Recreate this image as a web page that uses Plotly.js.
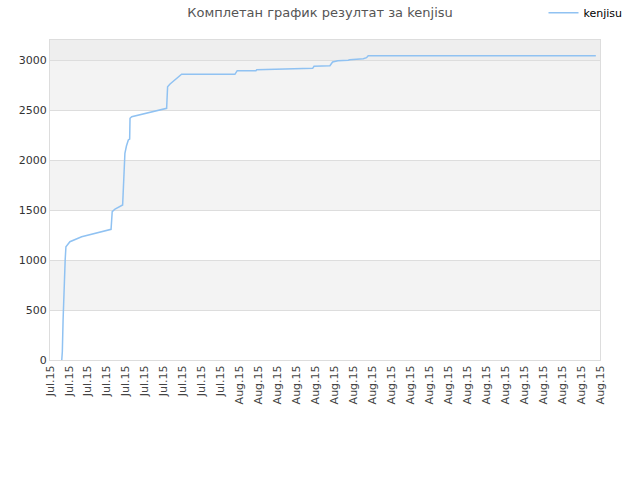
<!DOCTYPE html>
<html>
<head>
<meta charset="utf-8">
<script src="https://cdn.plot.ly/plotly-3.0.1.min.js"></script>
<style>
  html, body { margin: 0; padding: 0; background: #fff; }
  #plot { width: 640px; height: 480px; }
</style>
</head>
<body>
<div id="plot"></div>
<script>
// Tick labels along the x axis (one per tick position)
var tickLabels = [
  "Jul.15", "Jul.15", "Jul.15", "Jul.15", "Jul.15",
  "Jul.15", "Jul.15", "Jul.15", "Jul.15", "Jul.15",
  "Aug.15", "Aug.15", "Aug.15", "Aug.15", "Aug.15",
  "Aug.15", "Aug.15", "Aug.15", "Aug.15", "Aug.15",
  "Aug.15", "Aug.15", "Aug.15", "Aug.15", "Aug.15",
  "Aug.15", "Aug.15", "Aug.15", "Aug.15", "Aug.15"
];

// Position of each result, measured in tick steps
var resultX = [
  0.62, 0.65, 0.69, 0.72, 0.75, 0.80, 0.84, 0.91, 1.05, 1.67,
  2.20, 2.90, 3.22, 3.28, 3.43, 3.83, 3.86, 3.90, 3.95, 4.03,
  4.13, 4.20, 4.22, 4.31, 6.15, 6.20, 6.33, 6.94, 9.75, 9.87,
  10.86, 10.90, 12.83, 12.86, 13.85, 13.92, 14.76, 14.90, 15.18, 15.72,
  15.81, 16.52, 16.69, 16.78, 28.78
];

// Cumulative score at each point
var resultY = [
  0, 83, 400, 633, 900, 1000, 1133, 1150, 1183, 1233,
  1260, 1290, 1307, 1483, 1510, 1550, 1700, 1967, 2067, 2140,
  2200, 2210, 2417, 2433, 2517, 2733, 2760, 2857, 2857, 2893,
  2893, 2903, 2910, 2917, 2917, 2937, 2943, 2980, 2993, 2997,
  3003, 3013, 3023, 3043, 3043
];

var tickPositions = tickLabels.map(function (t, i) { return i; });

// Alternating horizontal bands behind the grid
var bands = [[500, 1000, "#f3f3f3"], [1500, 2000, "#f3f3f3"], [2500, 3000, "#f3f3f3"], [3000, 3200, "#eeeeee"]];
var shapes = bands.map(function (b) {
  return {
    type: "rect", xref: "paper", yref: "y", x0: 0, x1: 1, y0: b[0], y1: b[1],
    fillcolor: b[2], line: { width: 0 }, layer: "below"
  };
});

var trace = {
  x: resultX,
  y: resultY,
  type: "scatter",
  mode: "lines",
  name: "kenjisu",
  line: { color: "#90c2f2", width: 1.5 }
};

var layout = {
  width: 640,
  height: 480,
  margin: { l: 50, r: 40, t: 40, b: 120, autoexpand: false },
  paper_bgcolor: "#ffffff",
  plot_bgcolor: "#ffffff",
  font: { family: "DejaVu Sans, sans-serif", size: 11, color: "#333" },
  title: {
    text: "Комплетан график резултат за kenjisu",
    font: { family: "DejaVu Sans, sans-serif", size: 13, color: "#555" },
    x: 0.5, xanchor: "center", y: 0.975, yanchor: "middle"
  },
  showlegend: true,
  legend: {
    x: 1.05, xanchor: "right", y: 1.085, yanchor: "middle",
    font: { size: 11, color: "#000" },
    bgcolor: "rgba(0,0,0,0)",
    itemwidth: 30
  },
  xaxis: {
    range: [0, 29],
    tickmode: "array",
    tickvals: tickPositions,
    ticktext: tickLabels,
    tickangle: -90,
    showgrid: false,
    zeroline: false,
    showline: true,
    mirror: true,
    linecolor: "#dddddd",
    linewidth: 1,
    ticks: "",
    tickfont: { size: 11, color: "#444" }
  },
  yaxis: {
    range: [0, 3200],
    tickvals: [0, 500, 1000, 1500, 2000, 2500, 3000],
    showgrid: true,
    gridcolor: "#dddddd",
    zeroline: false,
    showline: true,
    mirror: true,
    linecolor: "#dddddd",
    linewidth: 1,
    ticks: "",
    tickfont: { size: 11, color: "#333" }
  },
  shapes: shapes
};

Plotly.newPlot("plot", [trace], layout, { displayModeBar: false, staticPlot: true });
</script>
</body>
</html>
